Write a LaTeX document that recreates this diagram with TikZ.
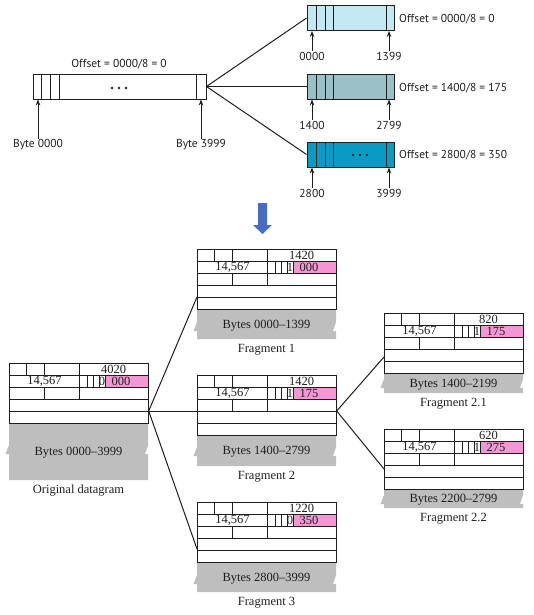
\documentclass[tikz,border=0pt]{standalone}
\usepackage{fontspec}
\setmainfont{Liberation Serif}
\newfontfamily\sansf{PT Sans}
\usetikzlibrary{arrows.meta}
\definecolor{pinkf}{RGB}{242,150,212}
\definecolor{tornf}{RGB}{190,190,190}
\definecolor{fragA}{RGB}{196,232,242}
\definecolor{fragB}{RGB}{155,192,200}
\definecolor{fragC}{RGB}{10,155,196}
\definecolor{bigarrow}{RGB}{72,108,196}
\definecolor{ink}{RGB}{30,30,30}

\tikzset{
  hdr/.style={draw=ink, line width=0.7pt, minimum width=139pt, minimum height=60pt, inner sep=0pt},
  grid/.style={draw=ink, line width=0.7pt},
  txt/.style={font=\fontsize{12.5}{13}\selectfont, inner sep=0pt, text=ink},
  stxt/.style={font=\sansf\fontsize{11.5}{13}\selectfont, inner sep=1pt, text=ink},
  tbox/.style={draw=ink, line width=0.9pt, inner sep=0pt, minimum height=25pt},
  conn/.style={draw=ink, line width=1pt},
  uparr/.style={draw=ink, line width=0.8pt, -{Stealth[length=6pt,width=4.5pt]}},
}

\newcommand{\dgram}[9]{%
 \begin{scope}[shift={#2}]
  \fill[tornf] (0,60) -- (139,60) -- (139,{60+#9}) -- (136,{69+#9}) -- (139,{69+#9}) -- (139,{60+#6}) -- (0,{60+#6}) -- (0,{69+#9}) -- (-3.5,{69+#9}) -- (0,{60+#9}) -- cycle;
  \fill[pinkf] (96,12) rectangle (139,24);
  \node[hdr, anchor=north west] (#1) at (0,0) {};
  \draw[grid] (0,12) -- (139,12) (0,24) -- (139,24) (0,36) -- (139,36) (0,48) -- (139,48);
  \draw[grid] (17.5,0) -- (17.5,12) (35,0) -- (35,12) (70,0) -- (70,36)
     (78,12) -- (78,24) (84,12) -- (84,24) (90,12) -- (90,24) (96,12) -- (96,24) (35,24) -- (35,36);
  \node[txt] (#1-len) at (104.5,6.3) {#3};
  \node[txt] (#1-id) at (35.5,18.3) {14,567};
  \node[txt] (#1-flag) at (93,18.3) {#4};
  \node[txt] (#1-off) at (112,18.3) {#5};
  \node[txt, text depth=0pt] (#1-bytes) at (69.5,{60+#6/2}) {#7};
  \node[txt] (#1-cap) at (69.5,{71+#6}) {#8};
 \end{scope}}

\begin{document}
\begin{tikzpicture}[x=1pt, y=-1pt]
\useasboundingbox (0,0) rectangle (533,615);

% ---------- top part ----------
\node[tbox, minimum width=173pt] (top) at (119.5,86.5) {};
\draw[grid] (41,74) -- (41,99) (50,74) -- (50,99) (59,74) -- (59,99) (196,74) -- (196,99);
\fill[ink] (112,88) circle[radius=1.4pt] (119,88) circle[radius=1.4pt] (126,88) circle[radius=1.4pt];
\node[stxt] (toff) at (119,64) {Offset = 0000/8 = 0};
\node[stxt] (b0) at (38,145) {Byte 0000};
\node[stxt] (b1) at (201,145) {Byte 3999};
\draw[uparr] (b0.north) -- (b0.north |- top.south);
\draw[uparr] (b1.north) -- (b1.north |- top.south);

\node[tbox, minimum width=87pt, fill=fragA] (tf1) at (350.5,18) {};
\node[tbox, minimum width=87pt, fill=fragB] (tf2) at (350.5,86.5) {};
\node[tbox, minimum width=87pt, fill=fragC] (tf3) at (350.5,154.5) {};
\foreach \yy in {5.5,74,142}{
  \draw[grid] (316,\yy) -- ++(0,25) (325,\yy) -- ++(0,25) (333,\yy) -- ++(0,25) (386,\yy) -- ++(0,25);
}
\fill[ink] (353,155) circle[radius=1.4pt] (360,155) circle[radius=1.4pt] (367,155) circle[radius=1.4pt];

\node[stxt, anchor=west] (o1) at (398,19) {Offset = 0000/8 = 0};
\node[stxt, anchor=west] (o2) at (398,88) {Offset = 1400/8 = 175};
\node[stxt, anchor=west] (o3) at (398,155) {Offset = 2800/8 = 350};

\node[stxt] (a1) at (312,56) {0000};
\node[stxt] (a2) at (389,56) {1399};
\node[stxt] (a3) at (312,125) {1400};
\node[stxt] (a4) at (389,125) {2799};
\node[stxt] (a5) at (312,193) {2800};
\node[stxt] (a6) at (389,193) {3999};
\draw[uparr] (a1.north) -- (a1.north |- tf1.south);
\draw[uparr] (a2.north) -- (a2.north |- tf1.south);
\draw[uparr] (a3.north) -- (a3.north |- tf2.south);
\draw[uparr] (a4.north) -- (a4.north |- tf2.south);
\draw[uparr] (a5.north) -- (a5.north |- tf3.south);
\draw[uparr] (a6.north) -- (a6.north |- tf3.south);

\draw[conn] (top.east) -- (tf1.west);
\draw[conn] (top.east) -- (tf2.west);
\draw[conn] (top.east) -- (tf3.west);

% big arrow
\fill[bigarrow] (258,203) -- (267,203) -- (267,225) -- (272,225) -- (262.5,234) -- (253,225) -- (258,225) -- cycle;

% ---------- bottom part ----------
\dgram{orig}{(9,363)}{4020}{0}{000}{57}{Bytes 0000--3999}{Original datagram}{22}
\dgram{f1}{(197,249)}{1420}{1}{000}{30}{Bytes 0000--1399}{Fragment 1}{13}
\dgram{f2}{(197,375)}{1420}{1}{175}{31}{Bytes 1400--2799}{Fragment 2}{12}
\dgram{f3}{(197,502)}{1220}{0}{350}{30}{Bytes 2800--3999}{Fragment 3}{13}
\dgram{f21}{(384,313)}{820}{1}{175}{20}{Bytes 1400--2199}{Fragment 2.1}{6}
\dgram{f22}{(384,429)}{620}{1}{275}{19}{Bytes 2200--2799}{Fragment 2.2}{6}

\draw[conn] ([yshift=-48pt]orig.north east) -- ([yshift=-48pt]f1.north west);
\draw[conn] ([yshift=-48pt]orig.north east) -- ([yshift=-36pt]f2.north west);
\draw[conn] ([yshift=-48pt]orig.north east) -- ([yshift=-47pt]f3.north west);
\draw[conn] ([yshift=-36pt]f2.north east) -- ([yshift=-44pt]f21.north west);
\draw[conn] ([yshift=-36pt]f2.north east) -- ([yshift=-40pt]f22.north west);
\end{tikzpicture}
\end{document}
